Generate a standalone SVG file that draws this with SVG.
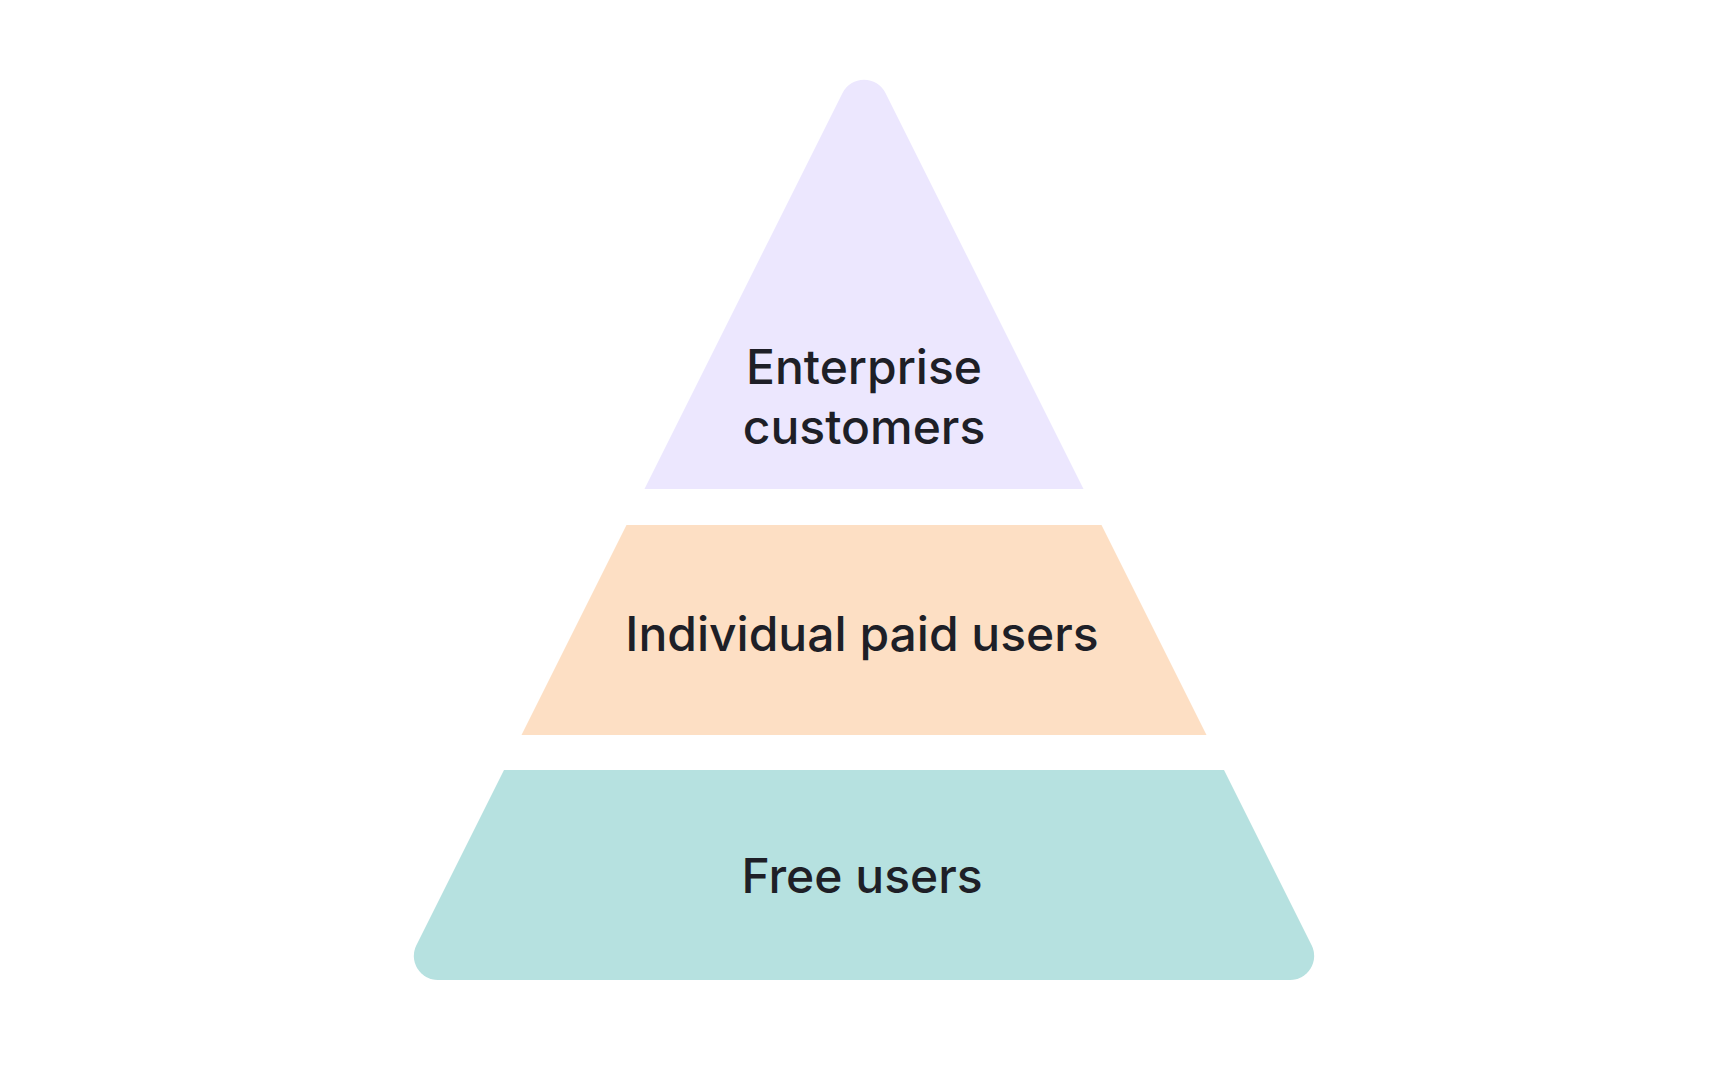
<svg xmlns="http://www.w3.org/2000/svg" width="1728" height="1080" viewBox="0 0 1728 1080">
  <style>
    .label { font-family: Inter, "Noto Sans", "Liberation Sans", sans-serif; font-size: 48px; font-weight: 500; fill: #1E1F27; text-anchor: middle; }
  </style>
  <rect width="1728" height="1080" fill="#FFFFFF"/>
  <g id="enterprise-customers">
    <path d="M 644.5 489 L 842.53 92.93 A 24 24 0 0 1 885.47 92.93 L 1083.5 489 Z" fill="#ECE7FE"/>
    <text class="label" x="864" y="384">Enterprise</text>
    <text class="label" x="864" y="444">customers</text>
  </g>
  <g id="individual-paid-users">
    <path d="M 626.5 525 L 1101.5 525 L 1206.5 735 L 521.5 735 Z" fill="#FDDFC4"/>
    <text class="label" x="862" y="651">Individual paid users</text>
  </g>
  <g id="free-users">
    <path d="M 504 770 L 1224 770 L 1311.63 945.27 A 24 24 0 0 1 1290.17 980 L 437.83 980 A 24 24 0 0 1 416.37 945.27 Z" fill="#B6E1E0"/>
    <text class="label" x="862" y="893">Free users</text>
  </g>
  <g id="connectors"/>
</svg>
